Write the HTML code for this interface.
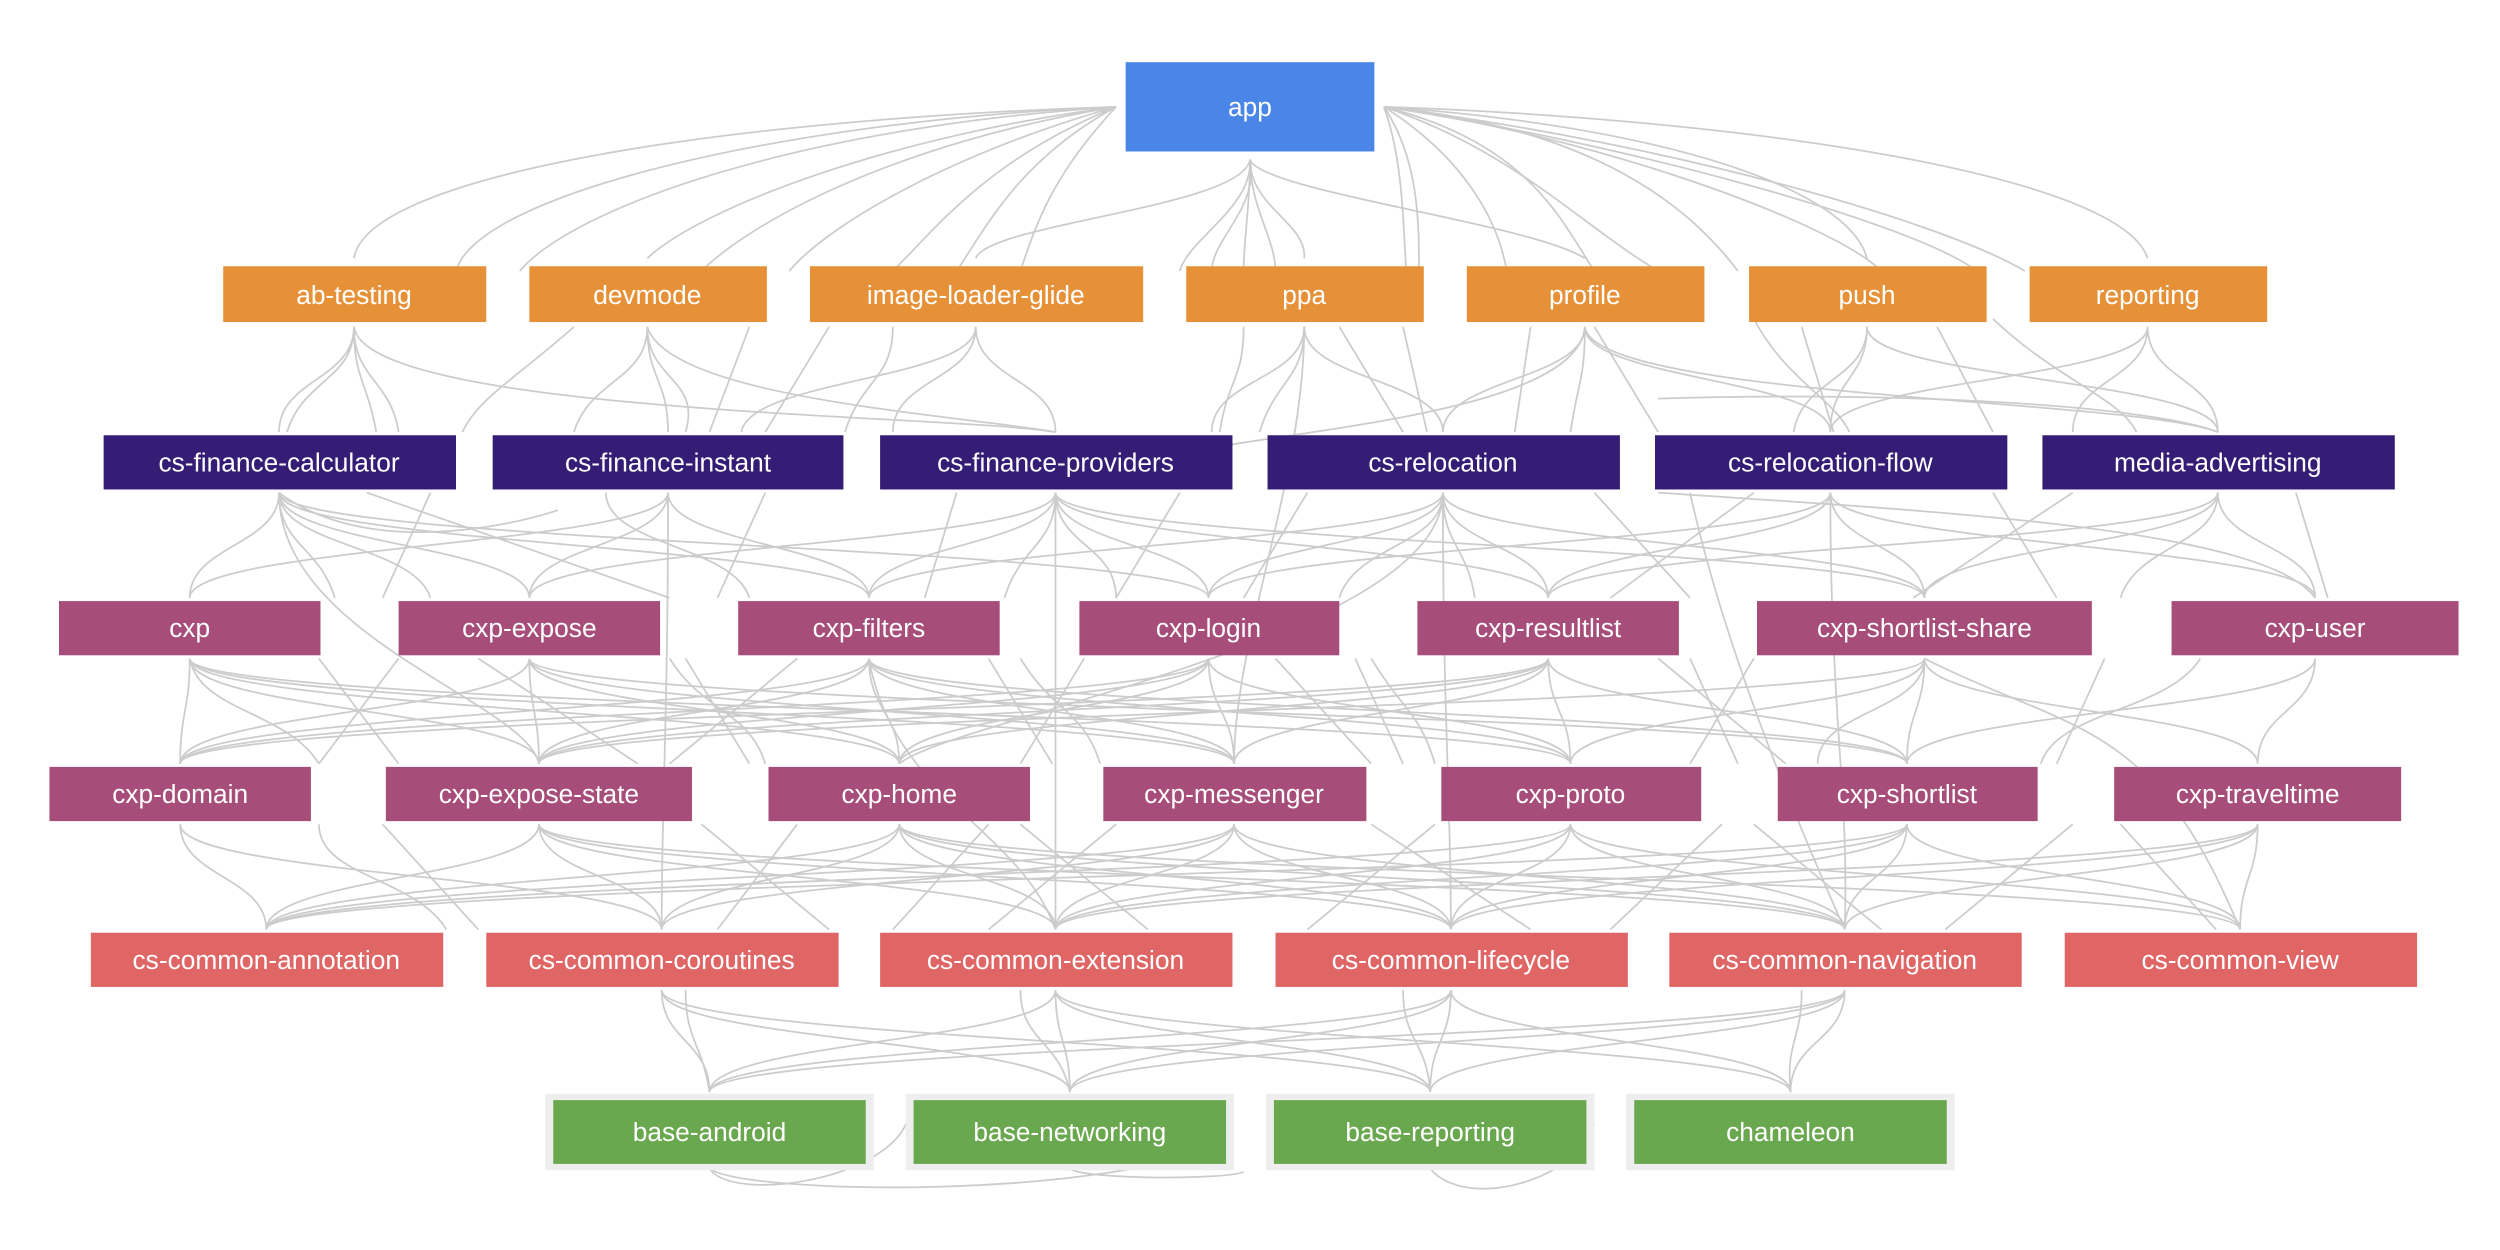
<!DOCTYPE html>
<html><head><meta charset="utf-8"><style>
html,body{margin:0;padding:0;background:#fff;width:2500px;height:1250px;overflow:hidden}
svg{display:block}
text{font-family:"Liberation Sans",sans-serif;font-size:16.5px;fill:#fff;text-anchor:middle;dominant-baseline:central}
.e path{fill:none;stroke:#cccccc;stroke-width:1.1}
</style></head><body>
<svg width="2500" height="1250" viewBox="0 0 1568 784" xmlns="http://www.w3.org/2000/svg">
<g class="e">
<path d="M700 67 C450 75 230 110 222 162"/>
<path d="M700 67 C500 80 360 130 326 170"/>
<path d="M700 67 C560 85 440 130 406 162"/>
<path d="M700 67 C560 90 470 140 440 170"/>
<path d="M700 67 C600 95 520 140 495 170"/>
<path d="M700 67 C620 100 590 140 560 170"/>
<path d="M700 67 C640 100 620 140 600 170"/>
<path d="M700 67 C660 110 650 140 640 170"/>
<path d="M700 67 C500 75 300 120 286 170"/>
<path d="M784 100 C780 130 620 140 612 162"/>
<path d="M784 100 C784 130 820 140 818 162"/>
<path d="M784 100 C784 130 800 150 800 170"/>
<path d="M784 100 C784 130 780 150 780 170"/>
<path d="M784 100 C790 130 760 150 760 170"/>
<path d="M784 100 C790 120 960 140 994 162"/>
<path d="M784 100 C786 130 745 150 740 170"/>
<path d="M868 67 C1100 75 1330 110 1347 162"/>
<path d="M868 67 C1050 80 1160 120 1171 162"/>
<path d="M868 67 C1000 80 1060 130 1090 170"/>
<path d="M868 67 C1000 85 1150 140 1180 170"/>
<path d="M868 67 C1050 90 1220 140 1270 170"/>
<path d="M868 67 C1020 90 1200 140 1240 170"/>
<path d="M868 67 C960 90 980 140 1000 170"/>
<path d="M868 67 C950 95 990 140 1040 170"/>
<path d="M868 67 C920 100 940 140 945 170"/>
<path d="M868 67 C880 100 880 140 882 170"/>
<path d="M868 67 C890 100 890 140 890 170"/>
<path d="M222 205 C222 238 175 238 175 271"/>
<path d="M222 205 C222 238 190 238 180 271"/>
<path d="M222 205 C222 238 230 238 236 271"/>
<path d="M222 205 C222 238 245 238 250 271"/>
<path d="M222 205 C230 260 600 260 662 271"/>
<path d="M406 205 C406 238 419 238 419 271"/>
<path d="M406 205 C406 238 370 238 360 271"/>
<path d="M406 205 C406 238 440 238 430 271"/>
<path d="M406 205 C420 250 600 260 662 271"/>
<path d="M360 205 C320 240 300 250 290 271"/>
<path d="M612 205 C612 238 662 238 662 271"/>
<path d="M612 205 C612 238 470 238 465 271"/>
<path d="M612 205 C612 238 560 238 560 271"/>
<path d="M560 205 C560 238 540 238 530 271"/>
<path d="M818 205 C818 238 905 238 905 271"/>
<path d="M818 205 C818 238 760 238 760 271"/>
<path d="M818 205 C818 238 800 238 790 271"/>
<path d="M780 205 C780 238 770 238 765 271"/>
<path d="M994 205 C994 238 905 238 905 271"/>
<path d="M994 205 C994 238 990 238 985 271"/>
<path d="M994 205 C994 238 1148 238 1148 271"/>
<path d="M994 205 C1000 250 1340 250 1391 271"/>
<path d="M994 205 C990 260 800 270 740 285"/>
<path d="M1171 205 C1171 238 1148 238 1148 271"/>
<path d="M1171 205 C1171 238 1391 238 1391 271"/>
<path d="M1171 205 C1171 238 1130 238 1125 271"/>
<path d="M1347 205 C1347 238 1391 238 1391 271"/>
<path d="M1347 205 C1347 238 1148 238 1148 271"/>
<path d="M1347 205 C1347 238 1300 238 1300 271"/>
<path d="M1100 200 C1120 238 1150 250 1160 271"/>
<path d="M1250 200 C1290 238 1330 250 1340 271"/>
<path d="M1040 250 C1200 245 1350 255 1391 271"/>
<path d="M840 205 L880 271"/><path d="M880 205 L895 271"/><path d="M470 205 L445 271"/><path d="M520 205 L480 271"/><path d="M1130 205 L1150 271"/><path d="M1215 205 L1250 271"/><path d="M1000 205 L1040 271"/><path d="M960 205 L950 271"/>
<path d="M175 309 C175 342 119 342 119 375"/>
<path d="M175 309 C175 342 332 342 332 375"/>
<path d="M175 309 C175 342 545 342 545 375"/>
<path d="M175 309 C180 342 758 342 758 375"/>
<path d="M175 309 C175 342 260 342 270 375"/>
<path d="M175 309 C175 342 200 342 210 375"/>
<path d="M175 309 C230 350 320 330 350 320"/>
<path d="M419 309 C419 342 332 342 332 375"/>
<path d="M419 309 C419 342 545 342 545 375"/>
<path d="M419 309 C419 342 119 342 119 375"/>
<path d="M380 309 C380 342 460 342 470 375"/>
<path d="M662 309 C662 342 545 342 545 375"/>
<path d="M662 309 C662 342 758 342 758 375"/>
<path d="M662 309 C662 342 971 342 971 375"/>
<path d="M662 309 C662 342 332 342 332 375"/>
<path d="M662 309 C662 342 1207 342 1207 375"/>
<path d="M662 309 C662 342 640 342 630 375"/>
<path d="M662 309 C662 342 700 342 700 375"/>
<path d="M905 309 C905 342 758 342 758 375"/>
<path d="M905 309 C905 342 971 342 971 375"/>
<path d="M905 309 C905 342 1207 342 1207 375"/>
<path d="M905 309 C905 342 545 342 545 375"/>
<path d="M905 309 C905 342 850 342 840 375"/>
<path d="M905 309 C905 342 920 342 925 375"/>
<path d="M1148 309 C1148 342 1207 342 1207 375"/>
<path d="M1148 309 C1148 342 971 342 971 375"/>
<path d="M1148 309 C1148 342 1452 342 1452 375"/>
<path d="M1148 309 C1148 342 758 342 758 375"/>
<path d="M1391 309 C1391 342 1452 342 1452 375"/>
<path d="M1391 309 C1391 342 1207 342 1207 375"/>
<path d="M1391 309 C1391 342 971 342 971 375"/>
<path d="M1391 309 C1391 342 1340 342 1330 375"/>
<path d="M1040 309 C1200 320 1420 330 1452 375"/>
<path d="M270 309 L240 375"/><path d="M230 309 L420 375"/><path d="M480 309 L450 375"/><path d="M600 309 L580 375"/><path d="M740 309 L700 375"/><path d="M820 309 L780 375"/><path d="M1000 309 L1060 375"/><path d="M1100 309 L1010 375"/><path d="M1300 309 L1200 375"/><path d="M1250 309 L1290 375"/><path d="M1440 309 L1460 375"/>
<path d="M119 413 C119 446 113 446 113 479"/>
<path d="M119 413 C119 446 338 446 338 479"/>
<path d="M119 413 C119 446 564 446 564 479"/>
<path d="M119 413 C119 446 774 446 774 479"/>
<path d="M119 413 C119 446 985 446 985 479"/>
<path d="M119 413 C125 446 180 446 200 479"/>
<path d="M332 413 C332 446 338 446 338 479"/>
<path d="M332 413 C332 446 113 446 113 479"/>
<path d="M332 413 C332 446 564 446 564 479"/>
<path d="M332 413 C332 446 774 446 774 479"/>
<path d="M332 413 C332 446 1196 446 1196 479"/>
<path d="M545 413 C545 446 564 446 564 479"/>
<path d="M545 413 C545 446 338 446 338 479"/>
<path d="M545 413 C545 446 113 446 113 479"/>
<path d="M545 413 C545 446 985 446 985 479"/>
<path d="M545 413 C545 446 774 446 774 479"/>
<path d="M545 413 C545 446 1196 446 1196 479"/>
<path d="M758 413 C758 446 774 446 774 479"/>
<path d="M758 413 C758 446 338 446 338 479"/>
<path d="M758 413 C758 446 113 446 113 479"/>
<path d="M758 413 C758 446 985 446 985 479"/>
<path d="M758 413 C758 446 564 446 564 479"/>
<path d="M971 413 C971 446 985 446 985 479"/>
<path d="M971 413 C971 446 113 446 113 479"/>
<path d="M971 413 C971 446 338 446 338 479"/>
<path d="M971 413 C971 446 564 446 564 479"/>
<path d="M971 413 C971 446 774 446 774 479"/>
<path d="M971 413 C971 446 1196 446 1196 479"/>
<path d="M1207 413 C1207 446 1196 446 1196 479"/>
<path d="M1207 413 C1207 446 1416 446 1416 479"/>
<path d="M1207 413 C1207 446 985 446 985 479"/>
<path d="M1207 413 C1207 446 338 446 338 479"/>
<path d="M1207 413 C1207 446 1140 446 1140 479"/>
<path d="M1452 413 C1452 446 1416 446 1416 479"/>
<path d="M1452 413 C1452 446 1196 446 1196 479"/>
<path d="M1380 413 C1360 446 1290 446 1280 479"/>
<path d="M420 413 C440 446 470 446 480 479"/>
<path d="M640 413 C660 446 680 446 690 479"/>
<path d="M860 413 C880 446 890 446 900 479"/>
<path d="M200 413 L250 479"/><path d="M250 413 L200 479"/><path d="M430 413 L470 479"/><path d="M620 413 L660 479"/><path d="M680 413 L640 479"/><path d="M850 413 L880 479"/><path d="M1060 413 L1090 479"/><path d="M1100 413 L1060 479"/><path d="M1320 413 L1290 479"/><path d="M300 413 L400 479"/><path d="M500 413 L420 479"/><path d="M800 413 L860 479"/><path d="M1040 413 L1120 479"/>
<path d="M113 517 C113 550 167 550 167 583"/>
<path d="M113 517 C113 550 415 550 415 583"/>
<path d="M200 517 C200 550 260 550 280 583"/>
<path d="M338 517 C338 550 167 550 167 583"/>
<path d="M338 517 C338 550 415 550 415 583"/>
<path d="M338 517 C338 550 662 550 662 583"/>
<path d="M338 517 C338 550 910 550 910 583"/>
<path d="M338 517 C338 550 1157 550 1157 583"/>
<path d="M564 517 C564 550 167 550 167 583"/>
<path d="M564 517 C564 550 415 550 415 583"/>
<path d="M564 517 C564 550 662 550 662 583"/>
<path d="M564 517 C564 550 910 550 910 583"/>
<path d="M564 517 C564 550 1157 550 1157 583"/>
<path d="M564 517 C564 550 1405 550 1405 583"/>
<path d="M774 517 C774 550 662 550 662 583"/>
<path d="M774 517 C774 550 910 550 910 583"/>
<path d="M774 517 C774 550 167 550 167 583"/>
<path d="M774 517 C774 550 1157 550 1157 583"/>
<path d="M774 517 C774 550 415 550 415 583"/>
<path d="M985 517 C985 550 910 550 910 583"/>
<path d="M985 517 C985 550 662 550 662 583"/>
<path d="M985 517 C985 550 1157 550 1157 583"/>
<path d="M985 517 C985 550 1405 550 1405 583"/>
<path d="M985 517 C985 550 167 550 167 583"/>
<path d="M1196 517 C1196 550 1157 550 1157 583"/>
<path d="M1196 517 C1196 550 910 550 910 583"/>
<path d="M1196 517 C1196 550 662 550 662 583"/>
<path d="M1196 517 C1196 550 1405 550 1405 583"/>
<path d="M1196 517 C1196 550 167 550 167 583"/>
<path d="M1416 517 C1416 550 1405 550 1405 583"/>
<path d="M1416 517 C1416 550 1157 550 1157 583"/>
<path d="M1416 517 C1416 550 910 550 910 583"/>
<path d="M1416 517 C1416 550 662 550 662 583"/>
<path d="M240 517 L300 583"/><path d="M440 517 L520 583"/><path d="M500 517 L450 583"/><path d="M640 517 L720 583"/><path d="M700 517 L620 583"/><path d="M860 517 L960 583"/><path d="M900 517 L820 583"/><path d="M1080 517 L1010 583"/><path d="M1100 517 L1180 583"/><path d="M1300 517 L1220 583"/><path d="M1330 517 L1390 583"/><path d="M620 517 L560 583"/>
<path d="M662 309 C662 450 662 500 662 583"/>
<path d="M905 309 C905 450 910 500 910 583"/>
<path d="M905 309 C905 400 600 450 564 479"/>
<path d="M419 309 C419 450 415 500 415 583"/>
<path d="M175 309 C175 400 330 440 338 479"/>
<path d="M818 205 C818 300 774 400 774 479"/>
<path d="M1148 309 C1148 450 1160 500 1157 583"/>
<path d="M1207 413 C1300 460 1350 450 1405 583"/>
<path d="M545 413 C560 500 640 520 662 583"/>
<path d="M1060 309 C1080 400 1120 500 1157 583"/>
<path d="M415 621 C415 653 445 653 445 685"/>
<path d="M415 621 C415 653 671 653 671 685"/>
<path d="M415 621 C415 653 897 653 897 685"/>
<path d="M430 621 C430 653 440 653 445 685"/>
<path d="M662 621 C662 653 445 653 445 685"/>
<path d="M662 621 C662 653 671 653 671 685"/>
<path d="M662 621 C662 653 897 653 897 685"/>
<path d="M662 621 C662 653 1123 653 1123 685"/>
<path d="M910 621 C910 653 445 653 445 685"/>
<path d="M910 621 C910 653 671 653 671 685"/>
<path d="M910 621 C910 653 897 653 897 685"/>
<path d="M910 621 C910 653 1123 653 1123 685"/>
<path d="M1157 621 C1157 653 445 653 445 685"/>
<path d="M1157 621 C1157 653 671 653 671 685"/>
<path d="M1157 621 C1157 653 897 653 897 685"/>
<path d="M1157 621 C1157 653 1123 653 1123 685"/>
<path d="M880 621 C880 653 895 653 897 685"/>
<path d="M1130 621 C1130 653 1120 653 1123 685"/>
<path d="M640 621 C640 653 665 653 671 685"/>
<path d="M445 733 C460 755 560 740 570 700"/>
<path d="M445 733 C470 750 700 752 770 715"/>
<path d="M897 733 C920 760 990 740 1000 705"/>
<path d="M671 733 C680 740 770 740 780 735"/>
</g>
<rect x="706" y="39" width="156" height="56" fill="#4a86e8"/><text x="784" y="67">app</text>
<g fill="#e69138">
<rect x="140" y="167" width="165" height="35"/><rect x="332" y="167" width="149" height="35"/><rect x="508" y="167" width="209" height="35"/><rect x="744" y="167" width="149" height="35"/><rect x="920" y="167" width="149" height="35"/><rect x="1097" y="167" width="149" height="35"/><rect x="1273" y="167" width="149" height="35"/>
</g>
<text x="222" y="185">ab-testing</text><text x="406" y="185">devmode</text><text x="612" y="185">image-loader-glide</text><text x="818" y="185">ppa</text><text x="994" y="185">profile</text><text x="1171" y="185">push</text><text x="1347" y="185">reporting</text>
<g fill="#351c75">
<rect x="65" y="273" width="221" height="34"/><rect x="309" y="273" width="220" height="34"/><rect x="552" y="273" width="221" height="34"/><rect x="795" y="273" width="221" height="34"/><rect x="1038" y="273" width="221" height="34"/><rect x="1281" y="273" width="221" height="34"/>
</g>
<text x="175" y="290">cs-finance-calculator</text><text x="419" y="290">cs-finance-instant</text><text x="662" y="290">cs-finance-providers</text><text x="905" y="290">cs-relocation</text><text x="1148" y="290">cs-relocation-flow</text><text x="1391" y="290">media-advertising</text>
<g fill="#a64d79">
<rect x="37" y="377" width="164" height="34"/><rect x="250" y="377" width="164" height="34"/><rect x="463" y="377" width="164" height="34"/><rect x="677" y="377" width="163" height="34"/><rect x="889" y="377" width="164" height="34"/><rect x="1102" y="377" width="210" height="34"/><rect x="1362" y="377" width="180" height="34"/>
<rect x="31" y="481" width="164" height="34"/><rect x="242" y="481" width="192" height="34"/><rect x="482" y="481" width="164" height="34"/><rect x="692" y="481" width="165" height="34"/><rect x="904" y="481" width="163" height="34"/><rect x="1115" y="481" width="163" height="34"/><rect x="1326" y="481" width="180" height="34"/>
</g>
<text x="119" y="394">cxp</text><text x="332" y="394">cxp-expose</text><text x="545" y="394">cxp-filters</text><text x="758" y="394">cxp-login</text><text x="971" y="394">cxp-resultlist</text><text x="1207" y="394">cxp-shortlist-share</text><text x="1452" y="394">cxp-user</text>
<text x="113" y="498">cxp-domain</text><text x="338" y="498">cxp-expose-state</text><text x="564" y="498">cxp-home</text><text x="774" y="498">cxp-messenger</text><text x="985" y="498">cxp-proto</text><text x="1196" y="498">cxp-shortlist</text><text x="1416" y="498">cxp-traveltime</text>
<g fill="#e06666">
<rect x="57" y="585" width="221" height="34"/><rect x="305" y="585" width="221" height="34"/><rect x="552" y="585" width="221" height="34"/><rect x="800" y="585" width="221" height="34"/><rect x="1047" y="585" width="221" height="34"/><rect x="1295" y="585" width="221" height="34"/>
</g>
<text x="167" y="602">cs-common-annotation</text><text x="415" y="602">cs-common-coroutines</text><text x="662" y="602">cs-common-extension</text><text x="910" y="602">cs-common-lifecycle</text><text x="1157" y="602">cs-common-navigation</text><text x="1405" y="602">cs-common-view</text>
<g fill="#eeeeee">
<rect x="342" y="686" width="206" height="48"/><rect x="568" y="686" width="206" height="48"/><rect x="794" y="686" width="206" height="48"/><rect x="1020" y="686" width="206" height="48"/>
</g>
<g fill="#6aa84f">
<rect x="347" y="690" width="196" height="40"/><rect x="573" y="690" width="196" height="40"/><rect x="799" y="690" width="196" height="40"/><rect x="1025" y="690" width="196" height="40"/>
</g>
<text x="445" y="710">base-android</text><text x="671" y="710">base-networking</text><text x="897" y="710">base-reporting</text><text x="1123" y="710">chameleon</text>
</svg>
</body></html>
